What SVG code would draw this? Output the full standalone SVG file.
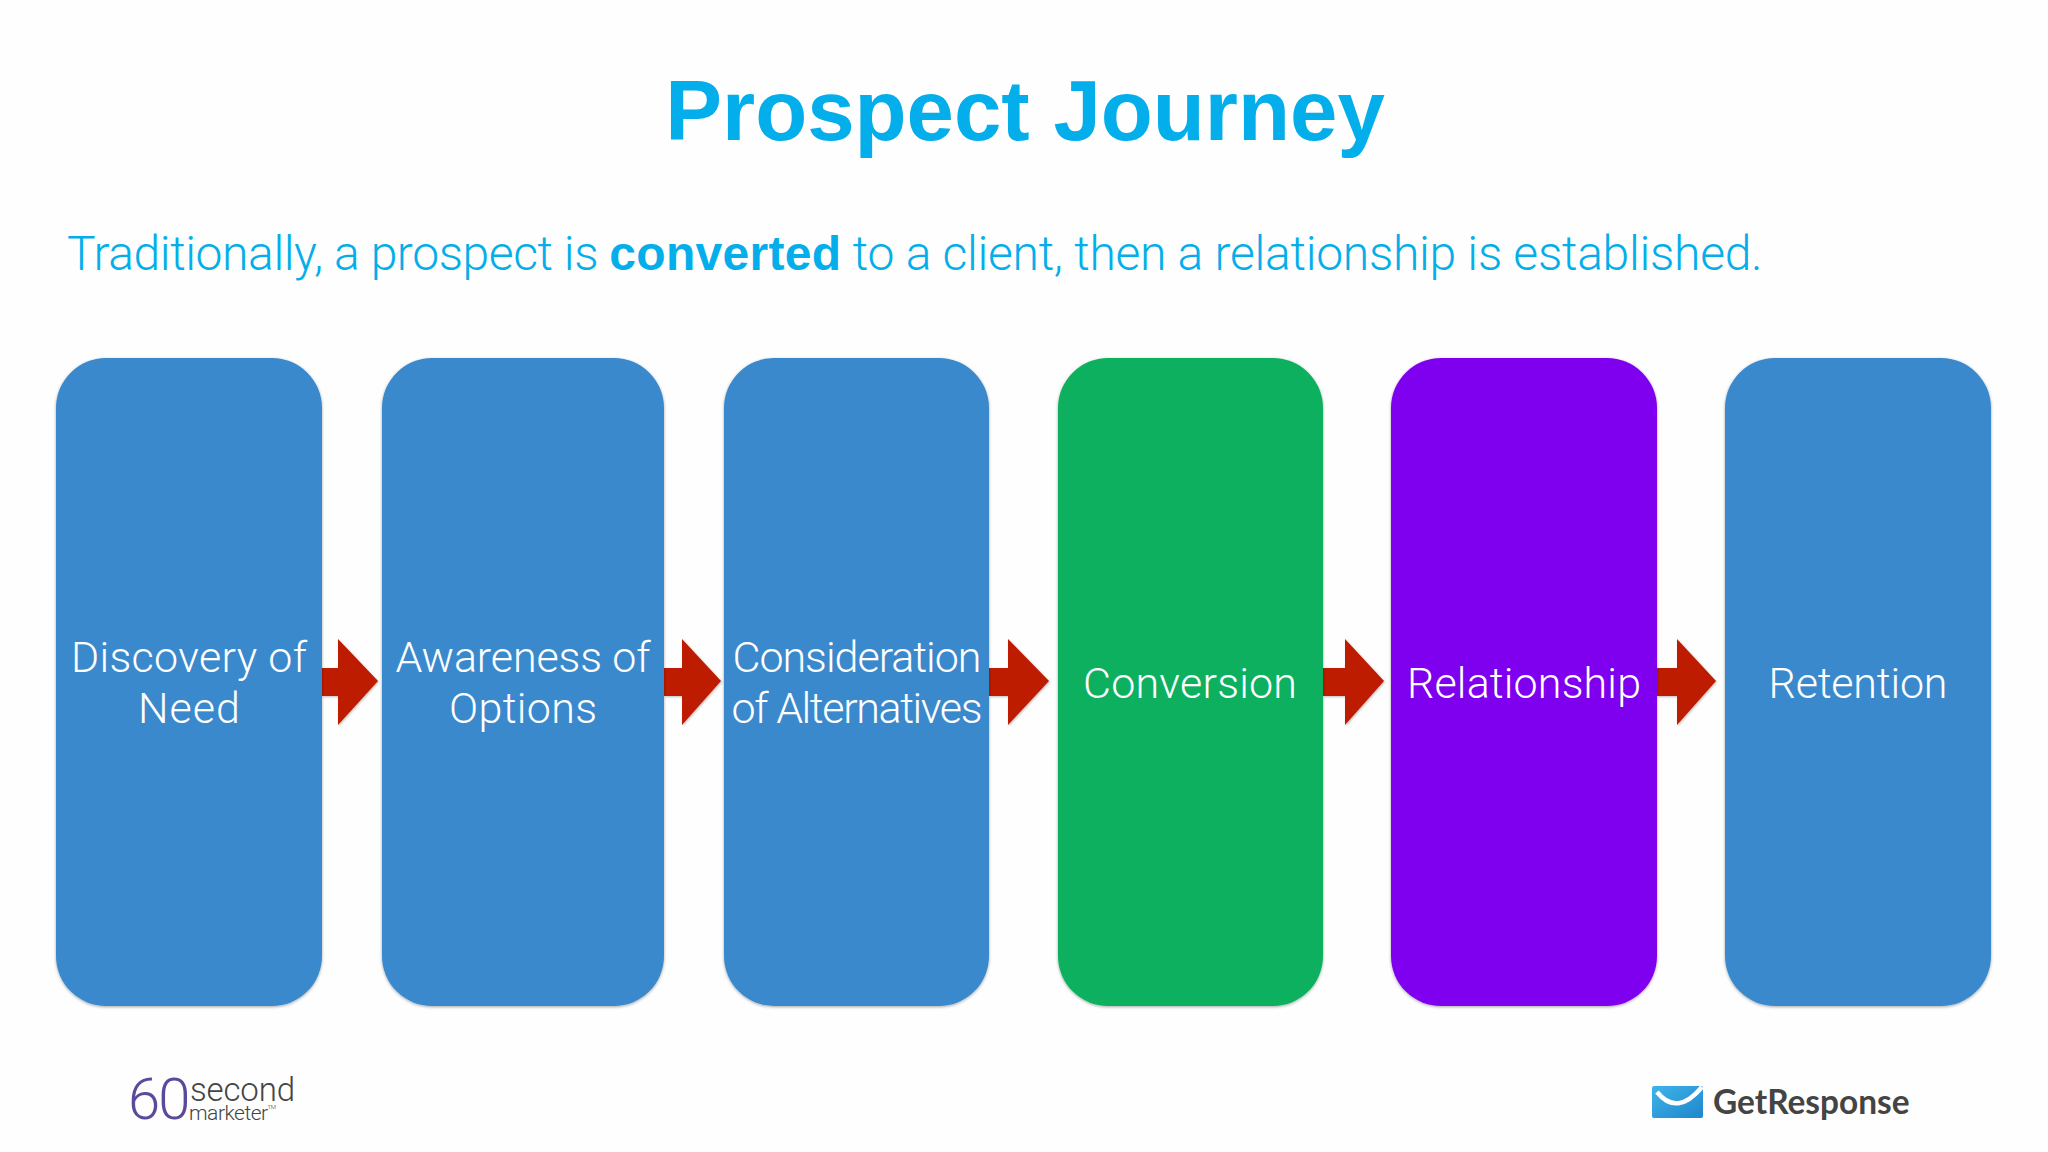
<svg xmlns="http://www.w3.org/2000/svg" width="2048" height="1152" viewBox="0 0 2048 1152">
<style>
.box{stroke:none;filter:url(#sh)}
.blue{fill:#3a89cd}.green{fill:#10b05f}.purple{fill:#7f00ee}
.lab{font-family:"Roboto","Liberation Sans",sans-serif;font-weight:300;font-size:43px;fill:#fff;text-anchor:middle}
.arr{fill:#bd1a02;filter:url(#sh2)}
.t{font-family:"Liberation Sans",Arial,sans-serif}
</style>
<defs>
<filter id="sh" x="-5%" y="-5%" width="110%" height="110%"><feDropShadow dx="0" dy="1" stdDeviation="1.500" flood-color="#000" flood-opacity=".35"/></filter>
<filter id="sh2" x="-10%" y="-10%" width="120%" height="120%"><feDropShadow dx="1" dy="1" stdDeviation="1" flood-color="#000" flood-opacity=".25"/></filter>
<linearGradient id="env" x1="0" y1="0" x2="1" y2="1"><stop offset="0" stop-color="#3fb4e8"/><stop offset="1" stop-color="#1f86cc"/></linearGradient>
</defs>
<rect width="2048" height="1152" fill="#fefefe"/>
<text id="title" class="t" x="1025" y="140" font-size="85.200" font-weight="700" fill="#04aeea" text-anchor="middle">Prospect Journey</text>
<text id="subtitle" x="67" y="270" font-family="Roboto,'Liberation Sans',sans-serif" font-weight="300" font-size="48" fill="#04aeea" letter-spacing="-.42">Traditionally, a prospect is <tspan class="t" font-weight="700" letter-spacing=".3">converted</tspan><tspan letter-spacing="-.27"> to a client, then a relationship is established.</tspan></text>
<g id="connectors">
<path class="arr" d="M322 668H338V639L378 681L338 725V696H322Z"/>
<path class="arr" d="M664 668H682V639L721 681L682 725V696H664Z"/>
<path class="arr" d="M989 668H1008V639L1049 681L1008 725V696H989Z"/>
<path class="arr" d="M1323 668H1345V639L1384 681L1345 725V696H1323Z"/>
<path class="arr" d="M1657 668H1677V639L1716 681L1677 725V696H1657Z"/>
</g>
<g id="n1"><rect class="box blue" x="56" y="358" width="266" height="648" rx="50"/><text class="lab" x="189" y="672" textLength="236">Discovery of</text><text class="lab" x="189" y="723" textLength="102">Need</text></g>
<g id="n2"><rect class="box blue" x="382" y="358" width="282" height="648" rx="50"/><text class="lab" x="523" y="672" textLength="255">Awareness of</text><text class="lab" x="523" y="723" textLength="148">Options</text></g>
<g id="n3"><rect class="box blue" x="724" y="358" width="265" height="648" rx="50"/><text class="lab" x="857" y="672" textLength="249">Consideration</text><text class="lab" x="857" y="723" textLength="251">of Alternatives</text></g>
<g id="n4"><rect class="box green" x="1058" y="358" width="265" height="648" rx="50"/><text class="lab" x="1190" y="698" textLength="214">Conversion</text></g>
<g id="n5"><rect class="box purple" x="1391" y="358" width="266" height="648" rx="50"/><text class="lab" x="1524" y="698" textLength="234">Relationship</text></g>
<g id="n6"><rect class="box blue" x="1725" y="358" width="266" height="648" rx="50"/><text class="lab" x="1858" y="698" textLength="179">Retention</text></g>
<g id="logo60">
<text x="128" y="1119" font-family="Roboto,sans-serif" font-weight="300" font-size="58" fill="#5b4a9c" letter-spacing="-2">60</text>
<text x="190" y="1101" font-family="Roboto,sans-serif" font-weight="300" font-size="33" fill="#444" textLength="105">second</text>
<text x="189" y="1120" font-family="Roboto,sans-serif" font-weight="300" font-size="21" fill="#444" letter-spacing="-.5">marketer<tspan font-size="6" dy="-11">TM</tspan></text>
</g>
<g id="logoGR">
<rect x="1652" y="1086" width="51" height="32" rx="2" fill="url(#env)"/>
<path d="M1657 1092Q1677 1117 1702 1087" fill="none" stroke="#fff" stroke-width="4.500"/>
<text x="1713" y="1114" font-family="Lato,sans-serif" font-weight="700" font-size="33.400" fill="#444">GetResponse</text>
</g>
</svg>
